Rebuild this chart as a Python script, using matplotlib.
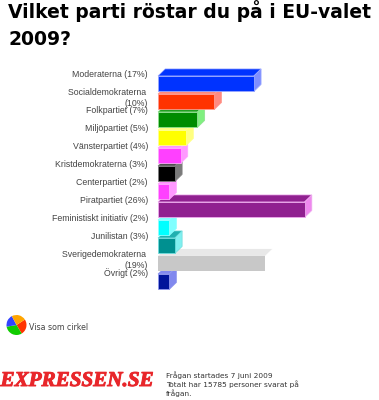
import matplotlib
matplotlib.use("Agg")
import matplotlib.pyplot as plt
from matplotlib.patches import Polygon
import matplotlib.patheffects as pe

title_lines = ["Vilket parti röstar du på i EU-valet", "2009?"]
labels = ["Moderaterna (17%)", "Socialdemokraterna \n(10%)", "Folkpartiet (7%)", "Miljöpartiet (5%)",
          "Vänsterpartiet (4%)", "Kristdemokraterna (3%)", "Centerpartiet (2%)", "Piratpartiet (26%)",
          "Feministiskt initiativ (2%)", "Junilistan (3%)", "Sverigedemokraterna \n(19%)", "Övrigt (2%)"]
values = [17, 10, 7, 5, 4, 3, 2, 26, 2, 3, 19, 2]
front = ["#0033ff", "#ff3300", "#008c00", "#ffff00", "#ff40ff", "#000000", "#ff40ff", "#902090",
         "#00ffff", "#009090", "#c8c8c8", "#00149a"]
top = ["#0033ff", "#ff8878", "#20a020", "#ffff80", "#ff90ff", "#505050", "#ff90ff", "#902090",
       "#80ffff", "#20b0b0", "#e8e8e8", "#8088ee"]
side = ["#7f8fff", "#ff8a80", "#80f080", "#ffff80", "#ff99ff", "#7a7a7a", "#ff99ff", "#ee88ee",
        "#80ffff", "#80f0f0", "#ffffff", "#8088ee"]
edge = ["#9aa8ff", "#ff9a90", "#90e090", "#ffff90", "#ffa8ff", "#808080", "#ffa8ff", "#eeaaee",
        "#90ffff", "#70dddd", "none", "#9098ee"]
pie_values = [25.5, 31, 20, 23.5]
pie_colors = ["#ff3300", "#11cc00", "#3344ff", "#ffa500"]
note_lines = ["Frågan startades 7 juni 2009", "Totalt har 15785 personer svarat på", "frågan."]

W, H = 379, 400
fig = plt.figure(figsize=(W / 100, H / 100), dpi=100, facecolor="white")
PX = 5.64          # pixels per percent
X0 = 158           # pixel of 0%
ROW = 18.0         # pixels per row
Y0 = 83.7          # pixel of first row centre
ax = fig.add_axes([0, 0, 1, 1])
ax.set_xlim(-X0 / PX, (W - X0) / PX)
ax.set_ylim((H - Y0) / ROW, -Y0 / ROW)
ax.axis("off")

bar_h = 15.5 / ROW
dx, dy = 7.2 / PX, 7.0 / ROW

def fy(p):
    return 1 - p / H

for i in range(len(values) - 1, -1, -1):
    v = values[i]
    t, b = i - bar_h / 2, i + bar_h / 2
    z = 2 + (len(values) - i) * 3
    ax.add_patch(Polygon([(0, t), (dx, t - dy), (v + dx, t - dy), (v, t)], closed=True,
                         facecolor=top[i], edgecolor=edge[i], lw=0.5, zorder=z))
    ax.add_patch(Polygon([(v, t), (v + dx, t - dy), (v + dx, b - dy), (v, b)], closed=True,
                         facecolor=side[i], edgecolor=edge[i], lw=0.5, zorder=z + 1))
    ax.barh(i, v, height=bar_h, color=front[i], edgecolor=edge[i], lw=0.6, zorder=z + 2)
    first = 75 + ROW * i
    ax.text(-10 / PX, (first - Y0 - 4.6) / ROW, labels[i], ha="right", va="top",
            fontsize=6.3, family="Liberation Sans", color="#444444", linespacing=1.18, zorder=60)

for k, line in enumerate(title_lines):
    fig.text(8 / W, fy(11 + 28.5 * k), line, ha="left", va="center",
             fontsize=13.5, family="DejaVu Sans", fontweight="bold", color="black")

pie_ax = fig.add_axes([6.5 / W, fy(335), 20 / W, 20 / H])
pie_ax.pie(pie_values, colors=pie_colors, startangle=33, counterclock=False, radius=1.0,
           wedgeprops=dict(lw=0))
pie_ax.set_xlim(-1, 1)
pie_ax.set_ylim(-1, 1)
pie_ax.set_aspect("equal")

fig.text(29 / W, fy(328), "Visa som cirkel", ha="left", va="center", fontsize=5.7,
         family="DejaVu Sans", color="#444444")

fig.text(0.5 / W, fy(381), "EXPRESSEN.SE", ha="left", va="center", fontsize=15.2,
         family="Liberation Serif", fontweight="bold", style="italic", color="#e8262a",
         path_effects=[pe.withStroke(linewidth=0.7, foreground="#e8262a")])

for k, line in enumerate(note_lines):
    fig.text(166 / W, fy(375.5 + 9 * k), line, ha="left", va="center", fontsize=5.3,
             family="DejaVu Sans", color="#333333")

fig.savefig("out.png", dpi=100, facecolor="white")
